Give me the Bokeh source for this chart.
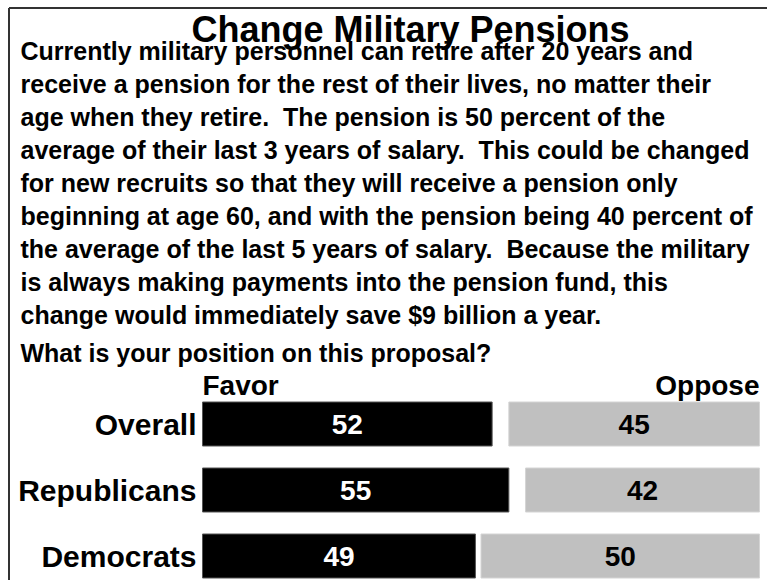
from bokeh.plotting import figure
from bokeh.models import Range1d, ColumnDataSource
from bokeh.core.properties import value
from bokeh.embed import file_html
from bokeh.resources import INLINE

title = "Change Military Pensions"
body_lines = [
    "Currently military personnel can retire after 20 years and",
    "receive a pension for the rest of their lives, no matter their",
    "age when they retire.  The pension is 50 percent of the",
    "average of their last 3 years of salary.  This could be changed",
    "for new recruits so that they will receive a pension only",
    "beginning at age 60, and with the pension being 40 percent of",
    "the average of the last 5 years of salary.  Because the military",
    "is always making payments into the pension fund, this",
    "change would immediately save $9 billion a year.",
]
question = "What is your position on this proposal?"
groups = ["Overall", "Republicans", "Democrats"]
favor = [52, 55, 49]
oppose = [45, 42, 50]
series_names = ["Favor", "Oppose"]

W, H = 767, 580
PX_X = 5.57        # pixels per percentage point
X0 = 202           # pixel where 0% sits
ROW_PX = 66        # pixels between rows
Y0 = 423.5         # pixel (from top) of first row centre

def dx(px):
    return (px - X0) / PX_X

def dy(py):
    return (Y0 - py) / ROW_PX

SANS = "Liberation Sans, Arial"

p = figure(width=W, height=H, output_backend="svg", toolbar_location=None,
           x_range=Range1d(dx(0), dx(W)), y_range=Range1d(dy(H), dy(0)),
           min_border=0)
p.axis.visible = False
p.grid.visible = False
p.outline_line_color = None
p.background_fill_color = "white"
p.border_fill_color = "white"

# frame lines (left and top), starting at the corner
p.segment(x0=[dx(8.5), dx(8.5)], y0=[dy(7.5), dy(7.5)],
          x1=[dx(8.5), dx(W + 5)], y1=[dy(H + 5), dy(7.5)],
          line_color="#333333", line_width=2)

ys = [-i for i in range(len(groups))]
src = ColumnDataSource(dict(
    y=ys, group=groups, favor=favor, oppose=oppose,
    fav_mid=[f / 2 for f in favor],
    opp_left=[100 - o for o in oppose],
    opp_mid=[100 - o / 2 for o in oppose],
    fav_lbl=[str(f) for f in favor],
    opp_lbl=[str(o) for o in oppose],
    zero=[0] * len(groups),
    hundred=[100] * len(groups),
))

bh = 44 / ROW_PX
p.hbar(y="y", left="zero", right="favor", height=bh, source=src,
       fill_color="black", line_color="#555555", line_width=1)
p.hbar(y="y", left="opp_left", right="hundred", height=bh, source=src,
       fill_color="#C0C0C0", line_color="#D4D4D4", line_width=1)

p.text(x="fav_mid", y="y", text="fav_lbl", source=src, text_color="white",
       text_font=value(SANS), text_font_style="bold", text_font_size="28px",
       text_align="center", text_baseline="middle")
p.text(x="opp_mid", y="y", text="opp_lbl", source=src, text_color="black",
       text_font=value(SANS), text_font_style="bold", text_font_size="28px",
       text_align="center", text_baseline="middle")
p.text(x=[dx(196)] * len(groups), y=ys, text=groups, text_color="black",
       text_font=value(SANS), text_font_style="bold", text_font_size="30px",
       text_align="right", text_baseline="middle")

# series headers
p.text(x=[0], y=[dy(385)], text=[series_names[0]], text_color="black",
       text_font=value(SANS), text_font_style="bold", text_font_size="28px",
       text_align="left", text_baseline="alphabetic")
p.text(x=[100], y=[dy(385)], text=[series_names[1]], text_color="black",
       text_font=value(SANS), text_font_style="bold", text_font_size="28px",
       text_align="right", text_baseline="alphabetic")

# title
p.text(x=[dx(410)], y=[dy(29)], text=[title], text_color="black",
       text_font=value(SANS), text_font_style="bold", text_font_size="36px",
       text_align="center", text_baseline="alphabetic")

# body (keep the double spaces visible)
shown = [s.replace("  ", "\u00a0 ") for s in body_lines]
p.text(x=[dx(20)] * len(shown), y=[dy(50 + 33 * i) for i in range(len(shown))],
       text=shown, text_color="black",
       text_font=value(SANS), text_font_style="bold", text_font_size="25px",
       text_align="left", text_baseline="alphabetic")
p.text(x=[dx(20)], y=[dy(352)], text=[question], text_color="black",
       text_font=value(SANS), text_font_style="bold", text_font_size="25px",
       text_align="left", text_baseline="alphabetic")

open("out.html", "w").write(file_html(p, INLINE))
